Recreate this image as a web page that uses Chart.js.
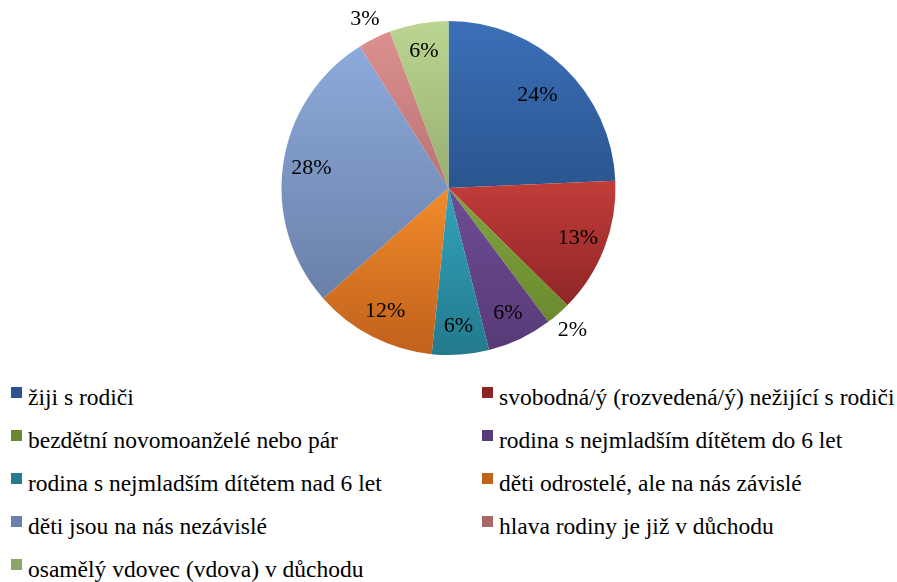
<!DOCTYPE html>
<html>
<head>
<meta charset="utf-8">
<script src="https://cdn.jsdelivr.net/npm/chart.js@4"></script>
<style>
  body { margin: 0; background: #fff; width: 897px; height: 582px; overflow: hidden; position: relative; font-family: 'Liberation Serif', serif; }
  #wrap { position: absolute; left: 0; top: 0; width: 897px; height: 376px; }
  #legend { position: absolute; left: 0; top: 376px; width: 897px; font-family: 'Liberation Serif', serif; font-size: 23.5px; color: #000; }
  .item { position: absolute; height: 43px; line-height: 43px; white-space: nowrap; }
  .item span.box { position: absolute; left: 0; top: 11px; width: 11px; height: 11px; }
  .item span.txt { position: absolute; left: 17px; top: 0; }
</style>
</head>
<body>
<div id="wrap"><canvas id="myChart"></canvas></div>
<div id="legend"></div>
<script>
// categories
const labels = [
  'žiji s rodiči',
  'svobodná/ý (rozvedená/ý) nežijící s rodiči',
  'bezdětní novomoanželé nebo pár',
  'rodina s nejmladším dítětem do 6 let',
  'rodina s nejmladším dítětem nad 6 let',
  'děti odrostelé, ale na nás závislé',
  'děti jsou na nás nezávislé',
  'hlava rodiny je již v důchodu',
  'osamělý vdovec (vdova) v důchodu'
];
// shares in percent
const values = [24.3, 13.1, 2.4, 6.3, 5.5, 11.9, 27.6, 3.2, 5.7];
// printed labels
const pctLabels = ['24%', '13%', '2%', '6%', '6%', '12%', '28%', '3%', '6%'];

// colours: top of slice, bottom of slice, legend box
const topColors = ['#3B70B8', '#C23D3A', '#82A43E', '#6E4C94', '#33A3BE', '#F28B2A', '#8DAADB', '#DC9190', '#BBD691'];
const bottomColors = ['#2A5590', '#8E2626', '#6A8A2E', '#583A78', '#237A8C', '#C0601C', '#6A80A8', '#B87272', '#97AE6F'];
const boxColors = ['#2A5490', '#8B2525', '#6B862E', '#553B79', '#237C8F', '#C1621C', '#6A80AC', '#A86767', '#8BA66B'];

const total = values.reduce((a, b) => a + b, 0);

// vertical extent of slice i, for its own gradient
function sliceExtent(i, cy, r) {
  let start = 0;
  for (let k = 0; k < i; k++) start += values[k] / total * Math.PI * 2;
  const end = start + values[i] / total * Math.PI * 2;
  // angle measured clockwise from top
  const ys = [cy, cy - r * Math.cos(start), cy - r * Math.cos(end)];
  if (start <= 0) ys.push(cy - r);
  if (start <= Math.PI && end >= Math.PI) ys.push(cy + r);
  return [Math.min(...ys), Math.max(...ys)];
}

function sliceFill(ctx) {
  const chart = ctx.chart;
  const area = chart.chartArea;
  if (!area) return topColors[ctx.dataIndex];
  const cy = (area.top + area.bottom) / 2;
  const r = Math.min(area.right - area.left, area.bottom - area.top) / 2;
  const [y0, y1] = sliceExtent(ctx.dataIndex, cy, r);
  const g = chart.ctx.createLinearGradient(0, y0, 0, y1);
  g.addColorStop(0, topColors[ctx.dataIndex]);
  g.addColorStop(1, bottomColors[ctx.dataIndex]);
  return g;
}

// percent labels, small slices go outside
const pctLabelPlugin = {
  id: 'pctLabels',
  afterDatasetsDraw(chart) {
    const { ctx } = chart;
    const meta = chart.getDatasetMeta(0);
    ctx.save();
    ctx.font = "22px 'Liberation Serif', serif";
    ctx.fillStyle = '#000';
    ctx.textAlign = 'center';
    ctx.textBaseline = 'middle';
    meta.data.forEach((arc, i) => {
      const p = arc.getProps(['x', 'y', 'startAngle', 'endAngle', 'outerRadius'], true);
      const mid = (p.startAngle + p.endAngle) / 2;
      const f = values[i] < 4 ? 1.13 : (i === 0 ? 0.77 : 0.83);
      ctx.fillText(pctLabels[i], p.x + Math.cos(mid) * p.outerRadius * f, p.y + Math.sin(mid) * p.outerRadius * f);
    });
    ctx.restore();
  }
};

const myChart = new Chart(document.getElementById('myChart'), {
  type: 'pie',
  data: {
    labels: labels,
    datasets: [{
      data: values,
      backgroundColor: sliceFill,
      borderWidth: 0,
      hoverOffset: 0
    }]
  },
  options: {
    responsive: true,
    maintainAspectRatio: false,
    animation: false,
    layout: { padding: { top: 21, bottom: 21 } },
    plugins: {
      legend: { display: false },
      tooltip: { enabled: false }
    }
  },
  plugins: [pctLabelPlugin]
});

// two column legend
const legend = document.getElementById('legend');
labels.forEach((name, i) => {
  const item = document.createElement('div');
  item.className = 'item';
  item.style.left = (i % 2 === 0 ? 11 : 482) + 'px';
  item.style.top = (Math.floor(i / 2) * 43) + 'px';
  const box = document.createElement('span');
  box.className = 'box';
  box.style.background = boxColors[i];
  const txt = document.createElement('span');
  txt.className = 'txt';
  txt.textContent = name;
  item.appendChild(box);
  item.appendChild(txt);
  legend.appendChild(item);
});
</script>
</body>
</html>
